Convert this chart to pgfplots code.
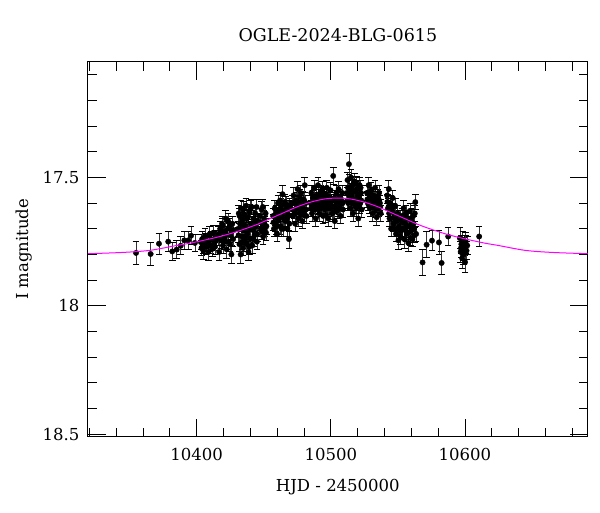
\documentclass[border=0pt]{standalone}
\usepackage{fontspec}
\setmainfont{DejaVu Serif}
\usepackage{pgfplots}
\pgfplotsset{compat=1.18}
\usepackage{pgfplotstable}
\definecolor{modelmag}{RGB}{255,0,255}

% I-band photometry: HJD-2450000, magnitude, error
\pgfplotstableread{
t m e
10354.8 17.794 0.045
10365.7 17.798 0.045
10371.9 17.758 0.040
10378.8 17.750 0.040
10381.8 17.788 0.035
10385.1 17.781 0.035
10388.1 17.766 0.035
10390.8 17.745 0.035
10393.7 17.745 0.035
10395.8 17.727 0.035
10398.7 17.755 0.035
10403.2 17.752 0.030
10403.6 17.775 0.030
10404.1 17.740 0.030
10405.0 17.785 0.035
10405.5 17.760 0.030
10406.3 17.730 0.030
10407.1 17.770 0.030
10408.0 17.748 0.030
10408.8 17.790 0.035
10409.5 17.722 0.030
10410.2 17.765 0.030
10411.0 17.740 0.030
10411.8 17.778 0.030
10412.5 17.715 0.030
10413.3 17.755 0.030
10414.0 17.735 0.030
10416.2 17.720 0.030
10416.8 17.790 0.035
10417.5 17.700 0.030
10418.1 17.745 0.030
10418.9 17.680 0.030
10419.6 17.765 0.030
10420.3 17.710 0.030
10421.0 17.735 0.030
10421.7 17.660 0.030
10422.4 17.780 0.035
10423.1 17.700 0.030
10423.8 17.750 0.030
10424.5 17.690 0.030
10425.2 17.725 0.030
10425.9 17.800 0.035
10426.6 17.680 0.030
10427.2 17.740 0.030
10431.0 17.700 0.030
10431.4 17.640 0.030
10431.9 17.760 0.030
10432.3 17.680 0.030
10432.8 17.800 0.035
10433.2 17.620 0.030
10433.7 17.730 0.030
10434.1 17.665 0.030
10434.6 17.775 0.030
10435.0 17.705 0.030
10435.5 17.645 0.030
10435.9 17.745 0.030
10436.4 17.690 0.030
10436.8 17.610 0.030
10437.3 17.760 0.030
10437.7 17.720 0.030
10438.2 17.655 0.030
10438.6 17.790 0.035
10439.1 17.700 0.030
10439.5 17.635 0.030
10440.0 17.740 0.030
10440.5 17.680 0.030
10441.0 17.615 0.030
10441.5 17.765 0.030
10442.0 17.705 0.030
10442.6 17.660 0.030
10443.1 17.725 0.030
10443.7 17.640 0.030
10444.3 17.690 0.030
10444.9 17.750 0.030
10445.5 17.670 0.030
10447.2 17.650 0.030
10447.8 17.700 0.030
10448.4 17.625 0.030
10449.0 17.680 0.030
10449.6 17.730 0.030
10450.2 17.660 0.030
10450.8 17.700 0.030
10451.4 17.640 0.030
10452.0 17.690 0.030
10457.0 17.650 0.030
10457.6 17.700 0.030
10458.2 17.620 0.030
10458.8 17.680 0.030
10459.4 17.640 0.030
10460.0 17.720 0.030
10460.6 17.600 0.030
10461.2 17.665 0.030
10461.8 17.630 0.030
10462.4 17.690 0.030
10463.0 17.610 0.030
10463.6 17.655 0.030
10464.0 17.565 0.035
10464.6 17.700 0.030
10465.2 17.640 0.030
10465.8 17.595 0.030
10466.4 17.670 0.030
10467.0 17.620 0.030
10467.6 17.700 0.030
10468.2 17.645 0.030
10468.8 17.740 0.035
10469.4 17.610 0.030
10471.0 17.600 0.030
10471.6 17.650 0.030
10472.2 17.570 0.030
10472.8 17.630 0.030
10473.4 17.680 0.030
10474.0 17.590 0.030
10474.6 17.620 0.030
10475.2 17.545 0.030
10475.8 17.660 0.030
10476.4 17.600 0.030
10477.0 17.635 0.030
10477.6 17.560 0.030
10478.2 17.610 0.030
10478.8 17.670 0.030
10479.4 17.585 0.030
10480.0 17.640 0.030
10480.6 17.530 0.030
10481.2 17.600 0.030
10481.8 17.650 0.030
10485.0 17.600 0.030
10485.5 17.560 0.030
10486.0 17.640 0.030
10486.6 17.580 0.030
10487.1 17.620 0.030
10487.7 17.540 0.030
10488.2 17.600 0.030
10488.8 17.660 0.030
10489.3 17.570 0.030
10489.9 17.610 0.030
10490.4 17.530 0.030
10491.0 17.590 0.030
10491.5 17.640 0.030
10492.1 17.560 0.030
10492.6 17.620 0.030
10493.2 17.580 0.030
10493.7 17.545 0.030
10494.3 17.650 0.030
10494.8 17.600 0.030
10495.4 17.565 0.030
10495.9 17.625 0.030
10496.5 17.585 0.030
10497.0 17.540 0.030
10497.6 17.610 0.030
10498.1 17.660 0.030
10498.7 17.575 0.030
10499.2 17.620 0.030
10499.8 17.550 0.030
10500.3 17.595 0.030
10500.9 17.640 0.030
10501.8 17.494 0.035
10502.5 17.580 0.030
10503.0 17.670 0.030
10503.6 17.610 0.030
10504.1 17.560 0.030
10504.7 17.630 0.030
10505.2 17.590 0.030
10505.8 17.545 0.030
10506.3 17.615 0.030
10506.9 17.575 0.030
10507.4 17.650 0.030
10508.0 17.600 0.030
10508.5 17.560 0.030
10509.0 17.625 0.030
10512.0 17.560 0.030
10512.5 17.510 0.030
10513.0 17.600 0.030
10513.5 17.448 0.042
10514.0 17.540 0.030
10514.5 17.620 0.030
10515.0 17.500 0.030
10515.5 17.570 0.030
10516.0 17.530 0.030
10516.5 17.640 0.030
10517.0 17.585 0.030
10517.5 17.515 0.030
10518.0 17.555 0.030
10518.5 17.610 0.030
10519.0 17.525 0.030
10519.5 17.590 0.030
10520.0 17.545 0.030
10520.5 17.660 0.030
10521.0 17.575 0.030
10521.5 17.530 0.030
10522.0 17.600 0.030
10522.5 17.560 0.030
10523.0 17.625 0.030
10527.0 17.560 0.030
10527.6 17.600 0.030
10528.2 17.530 0.030
10528.8 17.580 0.030
10529.4 17.620 0.030
10530.0 17.550 0.030
10530.6 17.590 0.030
10531.2 17.640 0.030
10531.8 17.570 0.030
10532.4 17.610 0.030
10533.0 17.540 0.030
10533.6 17.595 0.030
10534.2 17.655 0.030
10534.8 17.575 0.030
10535.4 17.620 0.030
10536.0 17.560 0.030
10536.6 17.600 0.030
10537.2 17.640 0.030
10542.0 17.570 0.030
10542.6 17.620 0.030
10543.2 17.545 0.035
10543.8 17.660 0.030
10544.4 17.600 0.030
10545.0 17.700 0.030
10545.6 17.630 0.030
10546.2 17.580 0.030
10546.8 17.680 0.030
10547.4 17.650 0.030
10548.0 17.610 0.030
10548.6 17.720 0.030
10549.2 17.670 0.030
10549.8 17.640 0.030
10550.4 17.745 0.035
10551.0 17.690 0.030
10551.6 17.660 0.030
10552.2 17.710 0.030
10553.0 17.650 0.030
10553.6 17.700 0.030
10554.2 17.620 0.030
10554.8 17.740 0.035
10555.4 17.680 0.030
10556.0 17.640 0.030
10556.6 17.720 0.030
10557.2 17.660 0.030
10557.8 17.755 0.035
10558.4 17.690 0.030
10559.0 17.630 0.030
10559.6 17.710 0.030
10560.2 17.670 0.030
10560.8 17.740 0.030
10561.4 17.650 0.030
10562.0 17.700 0.030
10562.6 17.640 0.030
10563.0 17.596 0.030
10563.6 17.720 0.030
10568.4 17.831 0.050
10571.4 17.762 0.050
10575.4 17.746 0.040
10580.6 17.753 0.045
10582.6 17.833 0.045
10587.5 17.730 0.035
10596.2 17.736 0.040
10596.8 17.790 0.040
10597.3 17.760 0.035
10597.9 17.815 0.040
10598.4 17.745 0.035
10599.0 17.800 0.040
10599.5 17.770 0.035
10600.1 17.830 0.040
10600.6 17.750 0.035
10601.2 17.785 0.035
10601.7 17.765 0.035
10610.6 17.730 0.040
10404.6 17.765 0.030
10406.8 17.748 0.030
10409.1 17.760 0.030
10412.9 17.742 0.030
10413.7 17.770 0.030
10416.5 17.735 0.030
10417.9 17.715 0.030
10419.2 17.690 0.030
10420.7 17.750 0.030
10422.0 17.720 0.030
10423.4 17.670 0.030
10424.9 17.760 0.030
10426.2 17.710 0.030
10427.5 17.705 0.030
10431.2 17.725 0.030
10432.0 17.650 0.030
10433.0 17.700 0.030
10433.9 17.750 0.030
10434.8 17.625 0.030
10435.7 17.685 0.030
10436.6 17.730 0.030
10437.5 17.660 0.030
10438.4 17.705 0.030
10439.3 17.770 0.030
10440.2 17.620 0.030
10441.2 17.700 0.030
10442.3 17.740 0.030
10443.4 17.680 0.030
10444.6 17.615 0.030
10445.2 17.720 0.030
10447.5 17.675 0.030
10448.7 17.710 0.030
10449.3 17.615 0.030
10450.5 17.680 0.030
10451.7 17.715 0.030
10457.3 17.675 0.030
10458.5 17.655 0.030
10459.7 17.690 0.030
10460.9 17.645 0.030
10462.1 17.590 0.030
10463.3 17.700 0.030
10464.3 17.630 0.030
10465.5 17.665 0.030
10466.7 17.605 0.030
10467.3 17.660 0.030
10468.5 17.620 0.030
10469.1 17.680 0.030
10471.3 17.625 0.030
10472.5 17.600 0.030
10473.7 17.640 0.030
10475.5 17.615 0.030
10476.7 17.575 0.030
10477.9 17.645 0.030
10479.1 17.620 0.030
10480.3 17.590 0.030
10481.5 17.625 0.030
10485.3 17.620 0.030
10486.3 17.600 0.030
10487.4 17.575 0.030
10488.5 17.625 0.030
10489.6 17.595 0.030
10490.7 17.615 0.030
10491.8 17.575 0.030
10492.9 17.600 0.030
10494.0 17.615 0.030
10495.1 17.585 0.030
10496.2 17.645 0.030
10497.3 17.570 0.030
10498.4 17.600 0.030
10499.5 17.590 0.030
10500.6 17.615 0.030
10502.2 17.635 0.030
10503.3 17.590 0.030
10504.4 17.600 0.030
10505.5 17.620 0.030
10506.6 17.595 0.030
10507.7 17.585 0.030
10508.8 17.600 0.030
10512.2 17.590 0.030
10512.8 17.540 0.030
10513.7 17.575 0.030
10514.2 17.595 0.030
10515.2 17.555 0.030
10516.2 17.600 0.030
10517.2 17.550 0.030
10518.2 17.585 0.030
10519.2 17.620 0.030
10520.2 17.570 0.030
10521.2 17.610 0.030
10522.2 17.540 0.030
10522.8 17.590 0.030
10527.3 17.585 0.030
10528.5 17.610 0.030
10529.7 17.570 0.030
10530.9 17.605 0.030
10532.1 17.585 0.030
10533.3 17.625 0.030
10534.5 17.605 0.030
10535.7 17.585 0.030
10536.9 17.615 0.030
10542.3 17.595 0.030
10543.5 17.640 0.030
10544.7 17.660 0.030
10545.9 17.610 0.030
10547.1 17.700 0.030
10548.3 17.665 0.030
10549.5 17.700 0.030
10550.7 17.660 0.030
10551.9 17.730 0.030
10553.3 17.675 0.030
10554.5 17.660 0.030
10555.7 17.705 0.030
10556.9 17.690 0.030
10558.1 17.660 0.030
10559.3 17.735 0.030
10560.5 17.700 0.030
10561.7 17.680 0.030
10562.3 17.725 0.030
10597.0 17.775 0.035
10598.7 17.790 0.035
10600.3 17.760 0.035
}\lightcurve

% microlensing model
\pgfplotstableread{
t m
10319 17.797
10345 17.792
10365 17.784
10385 17.765
10395 17.756
10405 17.745
10415 17.733
10425 17.719
10435 17.702
10445 17.683
10455 17.660
10465 17.637
10475 17.614
10485 17.596
10495 17.584
10505 17.580
10515 17.584
10525 17.596
10535 17.614
10545 17.637
10555 17.660
10565 17.683
10575 17.702
10585 17.719
10595 17.733
10605 17.745
10615 17.756
10625 17.765
10645 17.784
10665 17.792
10691.5 17.797
}\model

\begin{document}
\begin{tikzpicture}
\begin{axis}[
    set layers=standard,
    scale only axis,
    width=499.7pt, height=374.7pt,
    font=\fontsize{16.5}{19}\selectfont,
    xmin=10319, xmax=10691.5,
    ymin=17.05, ymax=18.51,
    y dir=reverse,
    scaled x ticks=false,
    scaled y ticks=false,
    xtick={10400,10500,10600},
    minor xtick={10320,10340,10360,10380,10420,10440,10460,10480,10520,10540,10560,10580,10620,10640,10660,10680},
    ytick={17.5,18,18.5},
    minor ytick={17.1,17.2,17.3,17.4,17.6,17.7,17.8,17.9,18.1,18.2,18.3,18.4},
    tick align=inside,
    major tick length=18pt,
    minor tick length=9pt,
    tick style={black, line width=0.8pt},
    axis line style={line width=1pt},
    /pgf/number format/assume math mode=true,
    /pgf/number format/1000 sep={},
    xticklabel style={yshift=-8pt},
    yticklabel style={xshift=-5pt},
    title={OGLE-2024-BLG-0615},
    title style={font=\fontsize{17.5}{20}\selectfont, yshift=11pt},
    xlabel={HJD - 2450000},
    ylabel={I magnitude},
    xlabel style={yshift=-12pt},
    ylabel style={yshift=4pt},
]
\addplot[only marks, mark=*, mark size=2.7pt, black,
    error bars/.cd, y dir=both, y explicit,
    error bar style={line width=0.7pt, black!80},
    error mark options={rotate=90, mark size=3.3pt, line width=0.9pt, black}]
    table[x=t, y=m, y error=e] {\lightcurve};
\addplot[modelmag, line width=1pt, smooth, no markers, on layer=axis foreground] table[x=t, y=m] {\model};
\end{axis}
\path (-88pt,-75.3pt) rectangle (512pt,436.7pt);
\end{tikzpicture}
\end{document}
